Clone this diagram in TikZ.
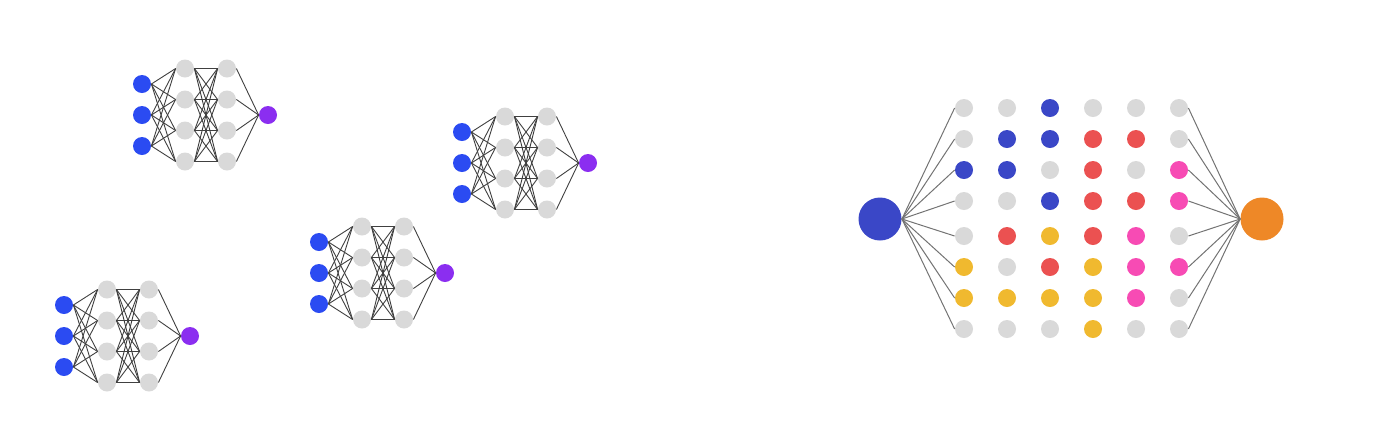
\documentclass[tikz,border=0pt]{standalone}
\usepackage{tikz}

\definecolor{cin}{HTML}{2B4BF2}
\definecolor{cout}{HTML}{8B2EF0}
\definecolor{cg}{HTML}{D9D9D9}
\definecolor{cb}{HTML}{3A47C7}
\definecolor{cr}{HTML}{EB5151}
\definecolor{cy}{HTML}{F0B92F}
\definecolor{cp}{HTML}{F74BB4}
\definecolor{co}{HTML}{EE8827}

\tikzset{
  dot/.style={circle, inner sep=0pt, minimum size=9pt},
  bigdot/.style={circle, inner sep=0pt, minimum size=21.5pt},
  wire/.style={line width=0.45pt, black!75},
  fan/.style={line width=0.5pt, black!55}
}

\begin{document}
\begin{tikzpicture}[x=0.5pt, y=-0.5pt]
\useasboundingbox (0,0) rectangle (1400,436);

% Small networks
\foreach \nx/\ny [count=\n] in {142/115, 64/336, 319/273, 462/163} {
  \foreach \i in {1,2,3}
    \node[dot, fill=cin] (in\n-\i) at (\nx, \ny+31*\i-62) {};
  \foreach \i in {1,...,4} {
    \node[dot, fill=cg] (ha\n-\i) at (\nx+43, \ny+31*\i-77.5) {};
    \node[dot, fill=cg] (hb\n-\i) at (\nx+85, \ny+31*\i-77.5) {};
  }
  \node[dot, fill=cout] (out\n) at (\nx+126, \ny) {};
  \foreach \i in {1,...,4} {
    \foreach \k in {1,2,3}
      \draw[wire] (in\n-\k.east) -- (ha\n-\i.west);
    \foreach \k in {1,...,4}
      \draw[wire] (ha\n-\k.east) -- (hb\n-\i.west);
    \draw[wire] (hb\n-\i.east) -- (out\n.west);
  }
}

% Big network
\node[bigdot, fill=cb] (L) at (880,219) {};
\node[bigdot, fill=co] (R) at (1262,219) {};
\foreach \row [count=\j] in {{cg,cg,cb,cg,cg,cg}, {cg,cb,cb,cr,cr,cg},
    {cb,cb,cg,cr,cg,cp}, {cg,cg,cb,cr,cr,cp}, {cg,cr,cy,cr,cp,cg},
    {cy,cg,cr,cy,cp,cp}, {cy,cy,cy,cy,cp,cg}, {cg,cg,cg,cy,cg,cg}} {
  \foreach \c [count=\i] in \row {
    \pgfmathsetmacro\gy{108+31*(\j-1)+4*(\j>4)}
    \node[dot, fill=\c] (g\j-\i) at (964+43*\i-43, \gy) {};
  }
  \draw[fan] (L.east) -- (g\j-1.west);
  \draw[fan] (g\j-6.east) -- (R.west);
}

\end{tikzpicture}
\end{document}
